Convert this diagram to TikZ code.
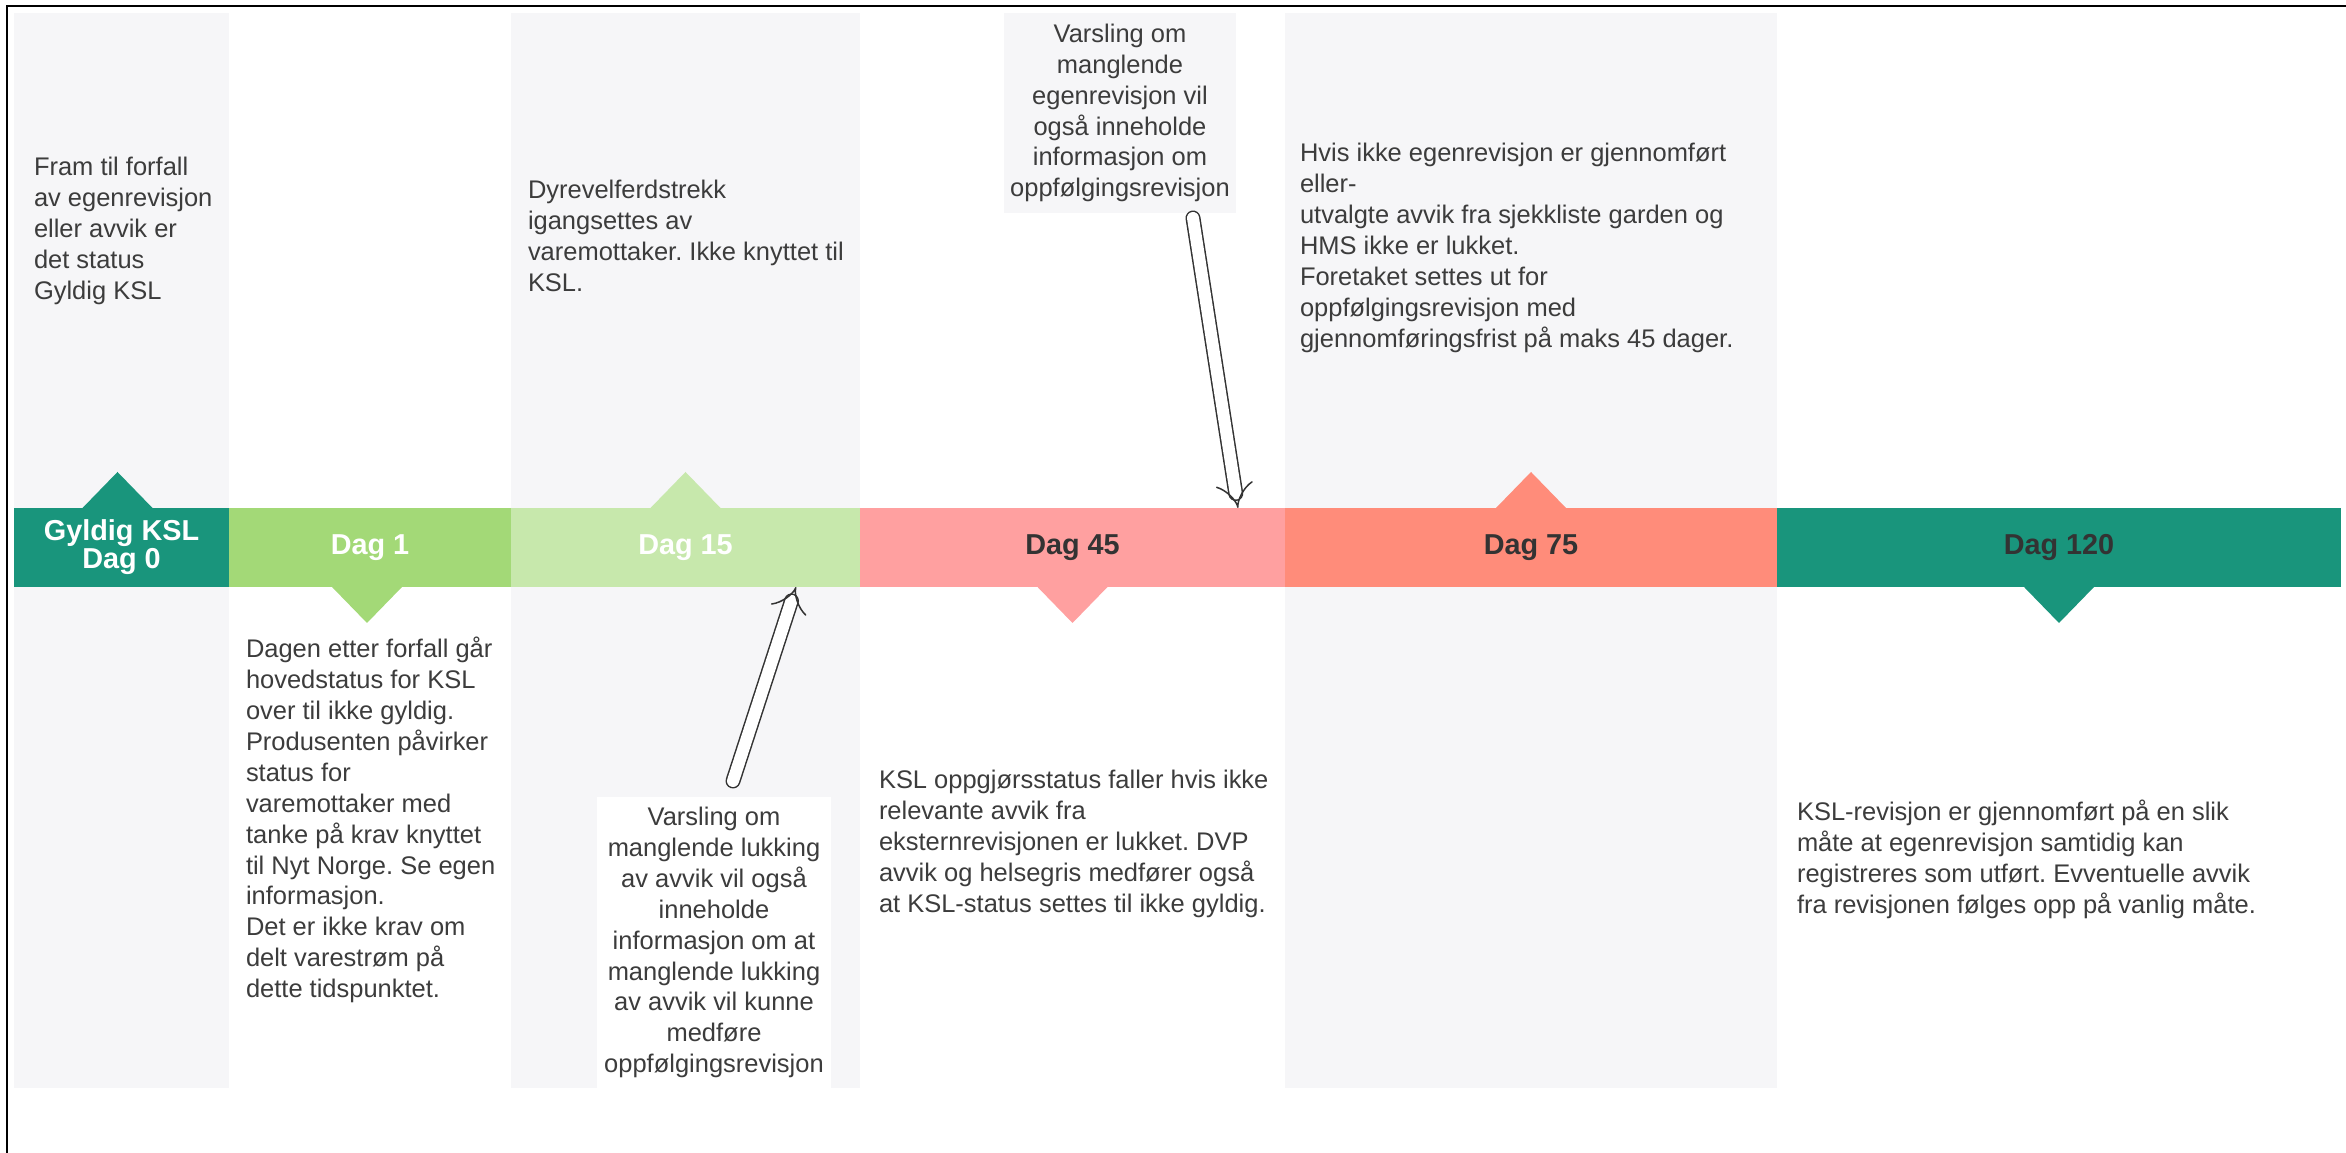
\documentclass[tikz,border=0pt]{standalone}
\usepackage{fontspec}
\setmainfont{Liberation Sans}
\usetikzlibrary{positioning, arrows.meta}
\definecolor{kslteal}{RGB}{25,149,124}
\definecolor{daggreen}{RGB}{163,217,119}
\definecolor{daglight}{RGB}{199,232,172}
\definecolor{dagpink}{RGB}{255,160,160}
\definecolor{dagsalmon}{RGB}{255,140,122}
\definecolor{colgray}{RGB}{246,246,248}
\definecolor{txtgray}{RGB}{60,60,60}
\definecolor{lbldark}{RGB}{51,51,51}
\tikzstyle{segment} = [rectangle, minimum height=0.79cm, inner sep=0pt, outer sep=0pt, align=center, font=\fontsize{8.2}{7.9}\selectfont\bfseries]
\tikzstyle{infotext} = [inner sep=0pt, outer sep=0pt, align=left, anchor=north west, text=txtgray, font=\fontsize{7.25}{8.8}\selectfont]
\tikzstyle{callout} = [rectangle, inner sep=0pt, outer sep=0pt, align=center, anchor=north west, text=txtgray, font=\fontsize{7.25}{8.8}\selectfont]
\tikzstyle{hollow} = [draw=lbldark, line width=0.015cm, double=white, double distance=0.12cm, line cap=round, -{Implies}]
\frenchspacing

\begin{document}
\begin{tikzpicture}
		\useasboundingbox (0,0) rectangle (23.46,-11.53);
		% Columns
		\fill [colgray] (0.14,-0.13) rectangle (2.29,-10.88);
		\fill [colgray] (5.11,-0.13) rectangle (8.60,-10.88);
		\fill [colgray] (12.85,-0.13) rectangle (17.77,-10.88);
		\draw [line width=0.02cm] (0.07,-11.53) -- (0.07,-0.06) -- (23.46,-0.06);
		% Timeline
		\node (d0) [segment, fill=kslteal, text=white, minimum width=2.15cm, anchor=north west] at (0.14,-5.08) {Gyldig KSL\\Dag 0};
		\node (d1) [segment, fill=daggreen, text=white, minimum width=2.82cm, right=0pt of d0] {Dag 1};
		\node (d15) [segment, fill=daglight, text=white, minimum width=3.49cm, right=0pt of d1] {Dag 15};
		\node (d45) [segment, fill=dagpink, text=lbldark, minimum width=4.25cm, right=0pt of d15] {Dag 45};
		\node (d75) [segment, fill=dagsalmon, text=lbldark, minimum width=4.92cm, right=0pt of d45] {Dag 75};
		\node (d120) [segment, fill=kslteal, text=lbldark, minimum width=5.64cm, right=0pt of d75] {Dag 120};
		% Markers
		\fill [kslteal] ([xshift=-0.39cm]d0.north) -- ([xshift=0.31cm]d0.north) -- ([xshift=-0.04cm, yshift=0.36cm]d0.north) -- cycle;
		\fill [daggreen] ([xshift=-0.38cm]d1.south) -- ([xshift=0.32cm]d1.south) -- ([xshift=-0.03cm, yshift=-0.36cm]d1.south) -- cycle;
		\fill [daglight] ([xshift=-0.35cm]d15.north) -- ([xshift=0.35cm]d15.north) -- ([yshift=0.36cm]d15.north) -- cycle;
		\fill [dagpink] ([xshift=-0.35cm]d45.south) -- ([xshift=0.35cm]d45.south) -- ([yshift=-0.36cm]d45.south) -- cycle;
		\fill [dagsalmon] ([xshift=-0.35cm]d75.north) -- ([xshift=0.35cm]d75.north) -- ([yshift=0.36cm]d75.north) -- cycle;
		\fill [kslteal] ([xshift=-0.35cm]d120.south) -- ([xshift=0.35cm]d120.south) -- ([yshift=-0.36cm]d120.south) -- cycle;
		% Texts
		\node (t0) [infotext] at (0.34,-1.57) {Fram til forfall\\av egenrevisjon\\eller avvik er\\det status\\Gyldig KSL};
		\node (t1) [infotext] at (2.46,-6.37) {Dagen etter forfall går\\hovedstatus for KSL\\over til ikke gyldig.\\Produsenten påvirker\\status for\\varemottaker med\\tanke på krav knyttet\\til Nyt Norge. Se egen\\informasjon.\\Det er ikke krav om\\delt varestrøm på\\dette tidspunktet.};
		\node (t15) [infotext] at (5.28,-1.80) {Dyrevelferdstrekk\\igangsettes av\\varemottaker. Ikke knyttet til\\KSL.};
		\node (t45) [infotext] at (8.79,-7.70) {KSL oppgjørsstatus faller hvis ikke\\relevante avvik fra\\eksternrevisjonen er lukket. DVP\\avvik og helsegris medfører også\\at KSL-status settes til ikke gyldig.};
		\node (t75) [infotext] at (13.00,-1.43) {Hvis ikke egenrevisjon er gjennomført\\eller-\\utvalgte avvik fra sjekkliste garden og\\HMS ikke er lukket.\\Foretaket settes ut for\\oppfølgingsrevisjon med\\gjennomføringsfrist på maks 45 dager.};
		\node (t120) [infotext] at (17.97,-8.00) {KSL-revisjon er gjennomført på en slik\\måte at egenrevisjon samtidig kan\\registreres som utført. Evventuelle avvik\\fra revisjonen følges opp på vanlig måte.};
		% Callouts
		\node (callTop) [callout, fill=colgray, minimum width=2.32cm, minimum height=2.00cm] at (10.04,-0.13) {Varsling om\\manglende\\egenrevisjon vil\\også inneholde\\informasjon om\\oppfølgingsrevisjon};
		\node (callBot) [callout, fill=white, minimum width=2.34cm, minimum height=2.91cm] at (5.97,-7.97) {Varsling om\\manglende lukking\\av avvik vil også\\inneholde\\informasjon om at\\manglende lukking\\av avvik vil kunne\\medføre\\oppfølgingsrevisjon};
		% Arrows
		\coordinate (topTail) at ([xshift=-0.43cm, yshift=-0.05cm]callTop.south east);
		\coordinate (topTip) at ([xshift=-0.47cm]d45.north east);
		\coordinate (botTail) at ([xshift=0.19cm, yshift=0.16cm]callBot.north);
		\coordinate (botTip) at ([xshift=-0.64cm]d15.south east);
		\draw [hollow] (topTail) -- (topTip);
		\draw [hollow] (botTail) -- (botTip);
	\end{tikzpicture}
\end{document}
